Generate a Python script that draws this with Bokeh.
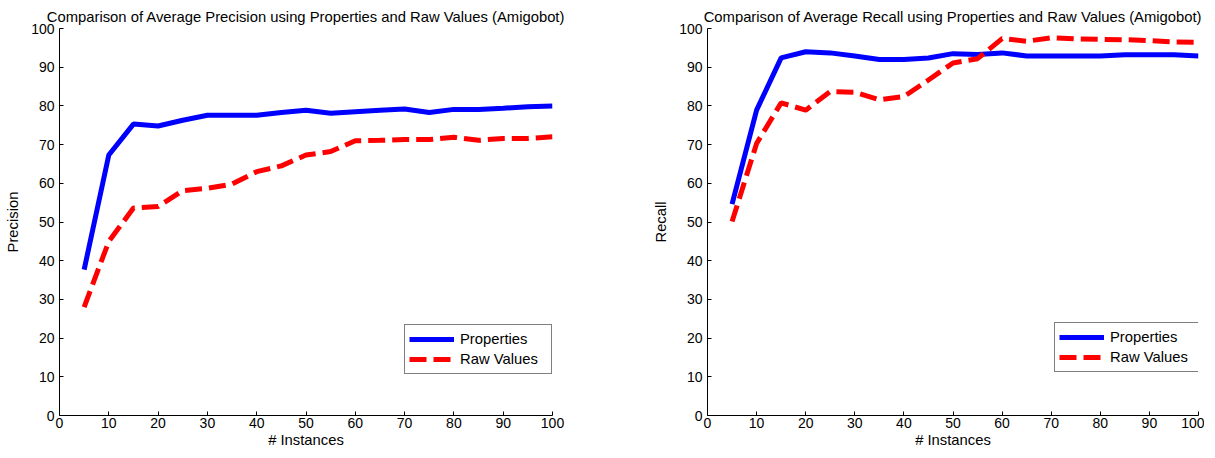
from bokeh.plotting import figure
from bokeh.layouts import row
from bokeh.models import Range1d, FixedTicker, Legend, LegendItem
from bokeh.embed import file_html
from bokeh.resources import INLINE

instances = [5, 10, 15, 20, 25, 30, 35, 40, 45, 50, 55, 60, 65, 70, 75, 80, 85, 90, 95, 100]

precision_properties = [37.7, 67.3, 75.3, 74.8, 76.3, 77.6, 77.6, 77.6, 78.3, 78.9,
                        78.1, 78.5, 78.9, 79.2, 78.3, 79.1, 79.1, 79.4, 79.8, 80.0]
precision_raw = [28.0, 45.0, 53.6, 54.0, 58.1, 58.7, 59.8, 63.0, 64.5, 67.3,
                 68.2, 71.0, 71.1, 71.3, 71.3, 71.9, 71.1, 71.6, 71.6, 72.0]

recall_properties = [54.6, 78.9, 92.4, 94.0, 93.7, 92.9, 92.0, 92.0, 92.4, 93.5,
                     93.3, 93.7, 92.9, 92.9, 92.9, 92.9, 93.2, 93.2, 93.2, 92.9]
recall_raw = [50.1, 70.3, 80.8, 78.9, 83.7, 83.5, 81.6, 82.4, 86.7, 91.1,
              92.2, 97.4, 96.7, 97.6, 97.3, 97.2, 97.1, 96.9, 96.5, 96.4]

tick_values = [0, 10, 20, 30, 40, 50, 60, 70, 80, 90, 100]

titles = ["Comparison of Average Precision using Properties and Raw Values (Amigobot)",
          "Comparison of Average Recall using Properties and Raw Values (Amigobot)"]
ylabels = ["Precision", "Recall"]
xlabel = "# Instances"
series_names = ["Properties", "Raw Values"]

FONT = "Liberation Sans"


def make_plot(title, ylabel, props, raw, width, border_left, border_right, legend_loc):
    p = figure(width=width, height=450, output_backend="svg", toolbar_location=None,
               x_range=Range1d(0, 100), y_range=Range1d(0, 100),
               min_border_left=border_left, min_border_right=border_right,
               min_border_top=28, min_border_bottom=30)
    p.title.text = title
    p.title.align = "center"
    p.title.text_font = FONT
    p.title.text_font_size = "14.8px"
    p.title.text_font_style = "normal"
    p.title.text_color = "black"
    p.title.standoff = 8
    p.outline_line_color = None
    p.xgrid.visible = False
    p.ygrid.visible = False
    p.background_fill_color = "white"
    p.border_fill_color = "white"

    for ax in (p.xaxis[0], p.yaxis[0]):
        ax.ticker = FixedTicker(ticks=tick_values)
        ax.major_tick_in = 4
        ax.major_tick_out = 0
        ax.minor_tick_line_color = None
        ax.axis_line_color = "black"
        ax.major_tick_line_color = "black"
        ax.major_label_text_font = FONT
        ax.major_label_text_font_size = "14px"
        ax.major_label_text_color = "black"
        ax.axis_label_text_font = FONT
        ax.axis_label_text_font_size = "14.8px"
        ax.axis_label_text_font_style = "normal"
        ax.axis_label_text_color = "black"

    p.xaxis.axis_label = xlabel
    p.xaxis.major_label_standoff = 2
    p.xaxis.axis_label_standoff = 1
    p.yaxis.axis_label = ylabel
    p.yaxis.major_label_standoff = 5
    p.yaxis.axis_label_standoff = 7

    r1 = p.line(instances, props, line_color="#0000FF", line_width=5)
    r2 = p.line(instances, raw, line_color="#FF0000", line_width=5, line_dash="17 7")

    legend = Legend(items=[LegendItem(label=series_names[0], renderers=[r1]),
                           LegendItem(label=series_names[1], renderers=[r2])],
                    location=legend_loc)
    legend.border_line_color = "black"
    legend.border_line_width = 1
    legend.background_fill_color = "white"
    legend.background_fill_alpha = 1.0
    legend.padding = 4
    legend.spacing = 0
    legend.margin = 0
    legend.glyph_width = 45
    legend.glyph_height = 20
    legend.label_height = 20
    legend.label_width = 87
    legend.label_standoff = 6
    legend.label_text_font = FONT
    legend.label_text_font_size = "14.8px"
    legend.label_text_color = "black"
    p.add_layout(legend, "center")
    return p


p1 = make_plot(titles[0], ylabels[0], precision_properties, precision_raw, 650, 59, 98, (345, 41))
p2 = make_plot(titles[1], ylabels[1], recall_properties, recall_raw, 554, 54, 6, (347, 43))

layout = row(p1, p2)
open("out.html", "w").write(file_html(layout, INLINE))
